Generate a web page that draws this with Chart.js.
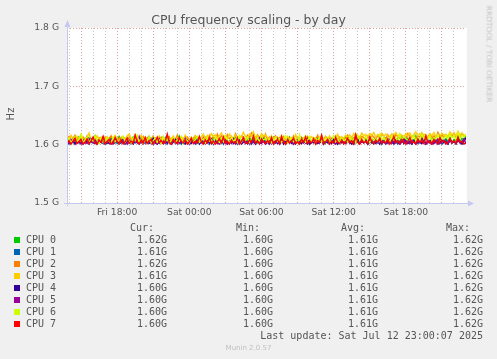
<!DOCTYPE html>
<html><head><meta charset="utf-8">
<script src="https://cdn.jsdelivr.net/npm/chart.js@4.4.1/dist/chart.umd.min.js"></script>
<style>
html,body{margin:0;padding:0;background:#f0f0f0;}
#wrap{position:relative;width:497px;height:359px;background:#f0f0f0;overflow:hidden;}
#c{position:absolute;left:0;top:0;}
.t{position:absolute;white-space:pre;color:#555;font-family:'DejaVu Sans',sans-serif;}
.mono{font-family:'DejaVu Sans Mono',monospace;font-size:10px;line-height:12px;}
.sq{position:absolute;width:6px;height:6px;}
</style></head><body>
<div id="wrap"><canvas id="c" width="497" height="359"></canvas></div>
<script>
// ---- data (MHz) ----
const TITLE = 'CPU frequency scaling - by day';
const Y_TITLE = 'Hz';
const CPU_NAMES = ['CPU 0','CPU 1','CPU 2','CPU 3','CPU 4','CPU 5','CPU 6','CPU 7'];
const COLORS = ['#00CC00','#0066B3','#FF8000','#FFCC00','#330099','#990099','#CCFF00','#FF0000'];
const START_H = 13 + 50/60;   // Fri 13:50 (hours since Fri 00:00)
const END_H = 47;             // Sat 23:00
const STEP_H = 1/6;           // 10-minute samples
const Y_TICKS = [1500,1600,1700,1800];
const GRID_HOURS = [14,15,16,17,18,19,20,21,22,23,24,25,26,27,28,29,30,31,32,33,34,35,36,37,38,39,40,41,42,43,44,45,46];
const LABEL_HOURS = [18,24,30,36,42];
const LABEL_TEXTS = ['Fri 18:00','Sat 00:00','Sat 06:00','Sat 12:00','Sat 18:00'];
const CUR = ['1.62G','1.61G','1.62G','1.61G','1.60G','1.60G','1.60G','1.60G'];
const MIN = ['1.60G','1.60G','1.60G','1.60G','1.60G','1.60G','1.60G','1.60G'];
const AVG = ['1.61G','1.61G','1.61G','1.61G','1.61G','1.61G','1.61G','1.61G'];
const MAX = ['1.62G','1.62G','1.62G','1.62G','1.62G','1.62G','1.62G','1.62G'];
const LAST_UPDATE = 'Last update: Sat Jul 12 23:00:07 2025';

const CPU0 = [1605,1609,1603,1611,1607,1604,1613,1608,1602,1610,1606,1612,1604,1608,1615,1603,1607,1611,1605,1609,1602,1606,1612,1605,1603,1609,1614,1604,1608,1606,1611,1603,1607,1613,1604,1608,1602,1612,1606,1610,1604,1614,1607,1603,1611,1605,1609,1604,1613,1607,1603,1610,1605,1612,1604,1608,1615,1606,1602,1610,1607,1604,1611,1606,1613,1603,1609,1607,1604,1612,1606,1610,1603,1614,1607,1604,1611,1608,1603,1612,1605,1602,1610,1607,1615,1604,1608,1606,1612,1603,1608,1613,1604,1610,1606,1603,1611,1605,1614,1608,1604,1609,1606,1612,1603,1607,1611,1605,1609,1602,1607,1613,1604,1608,1605,1611,1603,1609,1606,1614,1605,1608,1603,1610,1607,1612,1604,1606,1609,1603,1611,1605,1608,1614,1604,1607,1602,1610,1606,1612,1604,1609,1605,1611,1603,1607,1613,1606,1604,1610,1608,1603,1612,1605,1609,1606,1614,1604,1607,1611,1603,1608,1605,1612,1606,1610,1604,1613,1607,1605,1611,1604,1609,1606,1615,1603,1608,1610,1605,1612,1607,1604,1611,1606,1609,1603,1613,1608,1605,1610,1606,1612,1604,1609,1607,1614,1605,1611,1608,1616];
const CPU1 = [1603,1601,1607,1604,1602,1609,1603,1606,1601,1608,1605,1602,1607,1603,1610,1601,1606,1604,1602,1608,1603,1607,1601,1605,1609,1602,1606,1603,1608,1601,1604,1607,1602,1610,1603,1606,1601,1605,1608,1602,1607,1603,1605,1601,1609,1604,1602,1607,1603,1611,1601,1606,1603,1608,1602,1605,1607,1601,1606,1603,1609,1602,1605,1607,1601,1604,1608,1606,1602,1605,1610,1601,1607,1603,1606,1602,1604,1609,1601,1607,1603,1606,1602,1608,1604,1601,1607,1603,1610,1602,1605,1607,1601,1606,1603,1609,1602,1605,1607,1601,1604,1608,1602,1606,1603,1611,1601,1605,1607,1602,1606,1603,1609,1601,1605,1608,1602,1604,1607,1603,1601,1606,1604,1610,1602,1605,1603,1608,1601,1606,1604,1602,1607,1603,1609,1601,1605,1607,1602,1604,1608,1603,1606,1601,1605,1612,1602,1607,1603,1605,1601,1608,1604,1602,1606,1603,1609,1601,1605,1607,1602,1604,1608,1603,1606,1601,1605,1610,1602,1607,1603,1605,1601,1608,1604,1602,1606,1603,1609,1601,1605,1607,1602,1604,1608,1603,1606,1601,1605,1609,1602,1607,1603,1605,1601,1608,1604,1602,1606,1611];
const CPU2 = [1609,1614,1606,1611,1616,1607,1612,1604,1613,1608,1615,1606,1610,1607,1614,1605,1612,1609,1604,1613,1607,1611,1615,1606,1609,1605,1612,1608,1614,1609,1605,1613,1609,1606,1617,1611,1604,1608,1614,1607,1612,1606,1610,1615,1605,1611,1607,1613,1609,1604,1611,1614,1606,1610,1608,1616,1605,1612,1609,1606,1613,1609,1604,1611,1615,1607,1612,1605,1614,1608,1606,1616,1610,1613,1607,1618,1609,1615,1612,1608,1617,1610,1614,1607,1619,1612,1609,1615,1613,1607,1616,1611,1620,1614,1608,1617,1612,1615,1609,1618,1608,1613,1606,1611,1615,1607,1612,1605,1614,1609,1604,1612,1608,1615,1606,1610,1613,1607,1611,1605,1614,1609,1606,1612,1608,1616,1605,1611,1609,1614,1607,1612,1605,1610,1615,1608,1613,1606,1611,1609,1616,1610,1613,1607,1618,1611,1609,1614,1612,1608,1615,1611,1617,1613,1609,1616,1612,1619,1614,1610,1617,1612,1615,1609,1618,1613,1611,1616,1614,1609,1619,1614,1612,1617,1610,1615,1613,1620,1611,1616,1613,1618,1612,1615,1610,1621,1614,1617,1612,1616,1611,1618,1614,1620,1613,1616,1612,1619,1615,1617];
const CPU3 = [1611,1606,1616,1609,1604,1614,1608,1617,1610,1605,1612,1620,1608,1611,1606,1615,1609,1613,1605,1610,1614,1608,1605,1611,1616,1609,1604,1613,1607,1610,1615,1618,1611,1608,1614,1606,1610,1616,1609,1613,1607,1612,1605,1614,1610,1608,1615,1606,1611,1609,1613,1607,1610,1615,1608,1612,1606,1614,1609,1616,1610,1607,1613,1608,1615,1611,1606,1614,1618,1610,1616,1612,1619,1614,1617,1611,1615,1620,1612,1616,1610,1618,1614,1611,1617,1609,1615,1613,1621,1614,1611,1618,1615,1622,1612,1616,1610,1619,1614,1617,1612,1607,1615,1609,1605,1613,1608,1616,1610,1606,1614,1609,1612,1606,1617,1610,1607,1613,1609,1615,1606,1611,1614,1608,1612,1605,1610,1616,1608,1613,1609,1615,1607,1612,1610,1618,1608,1614,1611,1616,1613,1617,1611,1619,1614,1616,1612,1620,1615,1618,1614,1619,1616,1621,1613,1617,1615,1620,1614,1618,1616,1613,1619,1615,1621,1614,1618,1616,1612,1619,1615,1620,1613,1617,1622,1615,1619,1614,1618,1616,1612,1619,1615,1621,1614,1617,1613,1620,1616,1618,1614,1622,1617,1619,1615,1623,1616,1620,1614,1618];
const CPU4 = [1602,1606,1603,1609,1601,1607,1604,1602,1608,1603,1606,1601,1610,1604,1602,1607,1603,1605,1609,1601,1604,1602,1607,1603,1608,1605,1601,1604,1610,1602,1607,1603,1605,1601,1608,1604,1602,1606,1603,1609,1605,1602,1604,1611,1603,1601,1607,1604,1602,1608,1603,1606,1601,1604,1609,1602,1607,1603,1605,1601,1608,1604,1602,1607,1603,1610,1601,1605,1604,1602,1607,1603,1609,1601,1606,1604,1602,1608,1603,1606,1601,1604,1609,1602,1605,1603,1608,1601,1604,1607,1602,1609,1603,1606,1601,1607,1604,1602,1610,1603,1605,1601,1608,1603,1606,1602,1604,1609,1601,1605,1603,1607,1602,1605,1601,1608,1604,1602,1606,1603,1610,1601,1605,1603,1607,1602,1604,1608,1601,1606,1603,1605,1602,1609,1604,1601,1607,1603,1605,1602,1608,1604,1601,1606,1603,1611,1602,1605,1604,1607,1601,1606,1603,1608,1602,1605,1601,1609,1604,1602,1607,1603,1605,1601,1608,1604,1602,1606,1603,1610,1602,1605,1601,1607,1603,1606,1604,1602,1608,1601,1605,1603,1609,1602,1606,1601,1604,1607,1603,1605,1601,1608,1603,1606,1602,1609,1604,1601,1607,1612];
const CPU5 = [1606,1602,1609,1604,1611,1603,1607,1601,1608,1604,1602,1610,1605,1603,1608,1601,1607,1604,1613,1602,1605,1603,1609,1601,1604,1607,1602,1610,1603,1606,1601,1608,1604,1602,1607,1603,1614,1604,1601,1606,1603,1609,1602,1607,1604,1601,1610,1603,1606,1602,1608,1604,1601,1607,1603,1609,1602,1605,1604,1611,1603,1601,1607,1604,1602,1608,1605,1603,1610,1601,1604,1607,1602,1606,1609,1603,1601,1607,1604,1608,1602,1606,1603,1610,1601,1604,1607,1602,1609,1603,1605,1601,1608,1604,1602,1607,1612,1603,1606,1601,1604,1608,1602,1606,1603,1610,1601,1605,1607,1602,1609,1603,1606,1601,1608,1604,1602,1611,1603,1605,1601,1607,1604,1609,1602,1606,1603,1608,1601,1605,1607,1602,1610,1604,1601,1606,1603,1609,1605,1602,1608,1603,1606,1601,1613,1604,1602,1607,1603,1609,1601,1605,1608,1602,1606,1604,1610,1603,1607,1601,1605,1609,1602,1606,1603,1608,1601,1604,1611,1603,1606,1602,1609,1604,1601,1607,1603,1612,1605,1602,1608,1604,1601,1606,1603,1610,1602,1605,1607,1603,1601,1609,1604,1606,1602,1608,1603,1605,1610,1601];
const CPU6 = [1607,1612,1603,1609,1614,1605,1610,1618,1604,1608,1613,1603,1609,1606,1615,1607,1602,1611,1608,1604,1612,1606,1603,1613,1605,1609,1602,1608,1614,1604,1610,1606,1603,1612,1607,1616,1604,1609,1602,1608,1606,1613,1603,1607,1611,1604,1608,1602,1614,1606,1609,1603,1607,1612,1604,1608,1606,1613,1602,1609,1607,1603,1611,1605,1608,1614,1604,1607,1610,1603,1612,1606,1608,1603,1613,1607,1604,1611,1605,1614,1608,1603,1612,1606,1609,1604,1615,1605,1611,1607,1613,1604,1609,1616,1606,1612,1605,1614,1608,1610,1605,1611,1603,1608,1613,1606,1610,1604,1609,1615,1603,1607,1612,1605,1609,1603,1617,1606,1610,1604,1608,1614,1605,1611,1603,1607,1613,1604,1609,1606,1612,1603,1608,1615,1605,1610,1604,1612,1607,1609,1604,1613,1606,1610,1603,1616,1607,1611,1605,1614,1608,1604,1612,1607,1610,1605,1617,1608,1613,1606,1611,1605,1615,1609,1612,1606,1618,1608,1614,1610,1607,1613,1609,1616,1606,1612,1608,1619,1610,1614,1609,1615,1607,1612,1610,1617,1608,1613,1611,1616,1610,1618,1612,1615,1609,1620,1611,1616,1613,1617];
const CPU7 = [1603,1607,1601,1606,1611,1602,1605,1609,1601,1604,1610,1602,1606,1613,1603,1601,1608,1604,1614,1602,1605,1609,1601,1604,1612,1606,1602,1608,1601,1605,1611,1602,1606,1603,1616,1605,1601,1608,1603,1612,1602,1606,1609,1601,1605,1613,1603,1607,1602,1606,1618,1603,1601,1609,1605,1602,1612,1606,1603,1608,1601,1605,1611,1602,1606,1603,1614,1605,1601,1608,1603,1612,1602,1606,1601,1605,1610,1603,1613,1602,1606,1601,1608,1604,1603,1611,1601,1606,1612,1603,1602,1608,1604,1615,1603,1606,1601,1610,1605,1602,1607,1603,1612,1601,1605,1609,1602,1614,1604,1601,1608,1603,1606,1611,1602,1605,1601,1609,1604,1613,1602,1606,1603,1610,1601,1607,1604,1616,1602,1605,1609,1601,1606,1603,1612,1604,1602,1608,1601,1605,1611,1603,1607,1602,1617,1604,1601,1609,1603,1606,1602,1613,1605,1601,1608,1604,1611,1602,1606,1603,1610,1601,1605,1614,1603,1607,1602,1609,1604,1601,1606,1612,1603,1605,1601,1610,1604,1607,1602,1615,1603,1606,1601,1609,1605,1602,1612,1604,1608,1601,1605,1611,1603,1607,1602,1613,1604,1606,1601,1603];
const SERIES = [CPU0,CPU1,CPU2,CPU3,CPU4,CPU5,CPU6,CPU7];

// ---- text overlays ----
const wrap = document.getElementById('wrap');
function addText(txt, css, cls){
  const d = document.createElement('div');
  d.className = 't' + (cls ? ' ' + cls : '');
  d.textContent = txt;
  Object.assign(d.style, css);
  wrap.appendChild(d);
  return d;
}
addText(TITLE, {left:'0px', width:'497px', textAlign:'center', top:'12px', fontSize:'12.5px', lineHeight:'16px'});
addText(Y_TITLE, {left:'10.5px', top:'114px', fontSize:'10px', lineHeight:'12px', transform:'translate(-50%,-50%) rotate(-90deg)'});
addText('RRDTOOL / TOBI OETIKER', {left:'489px', top:'53.5px', fontSize:'7.5px', lineHeight:'9px', color:'#c4c4c4', transform:'translate(-50%,-50%) rotate(90deg)'});

const ROW0 = 234, ROWH = 12;
const COLS = [['Cur:',154,CUR,167],['Min:',260,MIN,273],['Avg:',365,AVG,378],['Max:',470,MAX,483]];
COLS.forEach(([h,hr,arr,vr]) => {
  addText(h, {right:(497-hr)+'px', top:(ROW0-ROWH)+'px'}, 'mono');
  arr.forEach((v,i) => addText(v, {right:(497-vr)+'px', top:(ROW0+ROWH*i)+'px'}, 'mono'));
});
CPU_NAMES.forEach((n,i) => {
  const s = document.createElement('div');
  s.className = 'sq';
  s.style.left = '14px'; s.style.top = (237+ROWH*i)+'px'; s.style.background = COLORS[i];
  wrap.appendChild(s);
  addText(n, {left:'26px', top:(ROW0+ROWH*i)+'px'}, 'mono');
});
addText(LAST_UPDATE, {right:(497-483)+'px', top:(ROW0+ROWH*8)+'px'}, 'mono');
addText('Munin 2.0.57', {left:'0px', width:'497px', textAlign:'center', top:'343px', fontSize:'7px', lineHeight:'10px', color:'#c0c0c0'});

// ---- chart ----
const RED_GRID = 'rgba(222,150,150,0.9)';
const GRAY_GRID = 'rgba(195,195,195,0.9)';
const AXIS = '#c6c9ef';
const decor = {
  id:'decor',
  beforeDraw(chart){
    const {ctx, chartArea:a} = chart;
    ctx.save();
    ctx.fillStyle = '#ffffff';
    ctx.fillRect(a.left, a.top, a.right - a.left + 1, a.bottom - a.top);
    ctx.restore();
  },
  afterDraw(chart){
    const {ctx, chartArea:a} = chart;
    ctx.save();
    ctx.strokeStyle = AXIS; ctx.fillStyle = AXIS; ctx.lineWidth = 1;
    ctx.beginPath();
    ctx.moveTo(a.left + 0.5, a.bottom + 3); ctx.lineTo(a.left + 0.5, a.top - 4);
    ctx.moveTo(a.left - 3, a.bottom + 0.5); ctx.lineTo(a.right + 4, a.bottom + 0.5);
    ctx.stroke();
    ctx.beginPath();
    ctx.moveTo(a.left + 0.5, a.top - 8); ctx.lineTo(a.left - 2.5, a.top - 1); ctx.lineTo(a.left + 3.5, a.top - 1); ctx.closePath();
    ctx.fill();
    ctx.beginPath();
    ctx.moveTo(a.right + 8, a.bottom + 0.5); ctx.lineTo(a.right + 2, a.bottom - 2.5); ctx.lineTo(a.right + 2, a.bottom + 3.5); ctx.closePath();
    ctx.fill();
    ctx.restore();
  }
};

const tickFont = {family:'DejaVu Sans', size:9.2};
new Chart(document.getElementById('c').getContext('2d'), {
  type:'line',
  data:{
    datasets: SERIES.map((s,k) => ({
      label: CPU_NAMES[k],
      data: s.map((v,i) => ({x: START_H + i*STEP_H, y: v})),
      borderColor: COLORS[k], backgroundColor: COLORS[k],
      borderWidth: 1.4, pointRadius: 0, tension: 0, fill: false,
      order: 7 - k
    }))
  },
  options:{
    responsive:false, animation:false, devicePixelRatio:1,
    layout:{padding:{left:0, top:28, right:31, bottom:136}},
    plugins:{legend:{display:false}, tooltip:{enabled:false}, title:{display:false}},
    scales:{
      x:{
        type:'linear', min:START_H, max:END_H,
        afterBuildTicks: s => { s.ticks = GRID_HOURS.map(h => ({value:h})); },
        afterFit: s => { s.height = 20; },
        grid:{color: c => (c.tick && c.tick.value % 3 === 0) ? RED_GRID : GRAY_GRID, lineWidth:1, drawTicks:false},
        border:{display:false, dash:[1,2]},
        ticks:{autoSkip:false, maxRotation:0, minRotation:0, padding:4, font:tickFont, color:'#555',
          callback: v => { const i = LABEL_HOURS.indexOf(v); return i >= 0 ? LABEL_TEXTS[i] : ''; }}
      },
      y:{
        min:1500, max:1800,
        afterBuildTicks: s => { s.ticks = Y_TICKS.map(v => ({value:v})); },
        afterFit: s => { s.width = 67; },
        grid:{color: RED_GRID, lineWidth:1, drawTicks:false},
        border:{display:false, dash:[1,2]},
        ticks:{padding:8, font:tickFont, color:'#555', callback: v => (v/1000).toFixed(1) + ' G'}
      }
    }
  },
  plugins:[decor]
});
</script></body></html>
